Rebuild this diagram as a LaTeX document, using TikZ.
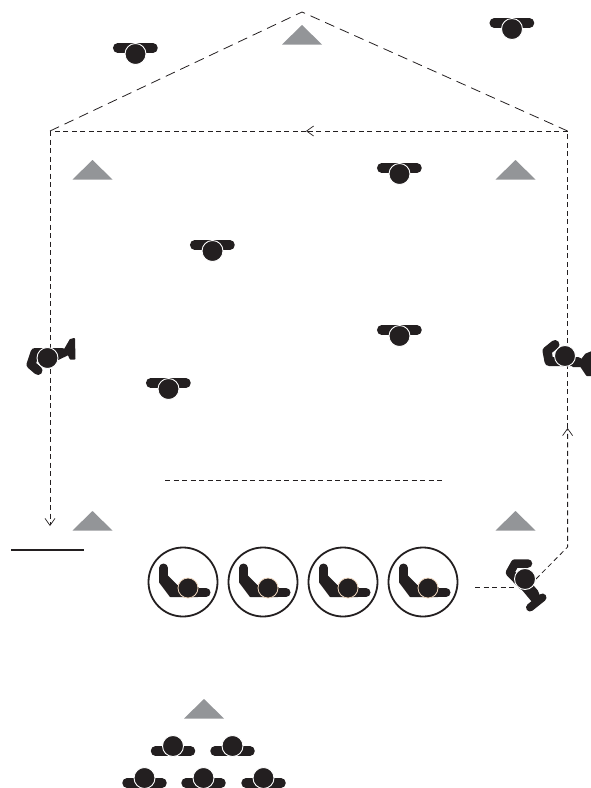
\documentclass[tikz,border=0pt]{standalone}
\usetikzlibrary{arrows.meta}
\definecolor{ink}{HTML}{231F20}
\definecolor{stagegray}{HTML}{939598}
\definecolor{rim}{HTML}{F0D8C0}
\tikzset{
  x=1pt,y=-1pt,
  limb/.style={draw=ink,line cap=round,line join=round},
  blob/.style={fill=ink,draw=ink,line width=2pt,line join=round},
  head/.style={fill=ink,draw=white,line width=0.9pt},
  longdash/.style={draw=ink,line width=0.8pt,dash pattern=on 10pt off 6pt},
  shortdash/.style={draw=ink,line width=0.8pt,dash pattern=on 5pt off 3.5pt},
  barb/.style={-{Straight Barb[length=7pt,width=10pt,line width=0.7pt]}},
  stage/.pic={\fill[stagegray] (0,0)--(-20,19.5)--(20,19.5)--cycle;},
  dancer/.pic={\draw[limb,line width=9.5pt] (-17.8,-6)--(17.5,-6);\draw[head] (0,0) circle (10.5);},
  viewer/.pic={\draw[limb,line width=9.5pt] (-17.5,5)--(17.5,5);\draw[head] (0,0) circle (10.5);},
  seated/.pic={
    \draw[ink,line width=1.8pt,fill=white] (0,0) circle (34.5);
    \draw[limb,line width=9pt] (-19.5,-14)--(-19.5,-4);
    \draw[limb,line width=9pt] (12,10.5)--(23,10.5);
    \draw[blob] (-23,-6)--(-23,0)--(-12.5,14)--(15,14)--(15,6)--(-6,4)--(-16,-6)--cycle;
    \draw[fill=ink,draw=rim,line width=0.8pt] (5,6) circle (10);
  }
}
\begin{document}
\begin{tikzpicture}
\useasboundingbox (0,0) rectangle (591,788);
\clip (0,0) rectangle (591,788);
% route coordinates
\coordinate (apex) at (302,12);
\coordinate (tl) at (50,131);
\coordinate (tr) at (567.6,131);
\coordinate (arrowTop) at (306,131);
\coordinate (arrowLeft) at (50,526);
\coordinate (arrowRight) at (567.6,428);
\coordinate (kneeR) at (567.6,547);
\coordinate (startR) at (536,579);
\coordinate (lineA) at (475,587);
\coordinate (lineB) at (514,587);
\coordinate (midA) at (165,480);
\coordinate (midB) at (445,480);
\coordinate (barA) at (11,550);
\coordinate (barB) at (84,550);
% dashed routes
\draw[longdash] (tl)--(apex)--(tr);
\draw[shortdash,barb] (tr)--(arrowTop);
\draw[shortdash] (arrowTop)--(tl);
\draw[shortdash,barb] (tl)--(arrowLeft);
\draw[shortdash,barb] (startR)--(kneeR)--(arrowRight);
\draw[shortdash] (arrowRight)--(tr);
\draw[shortdash] (lineA)--(lineB);
\draw[shortdash] (midA)--(midB);
\draw[ink,line width=1.8pt] (barA)--(barB);
% stage triangles
\foreach \p in {(302,25),(92.5,160),(515.5,160),(92.5,511),(515.5,511),(204,699)}
  \path \p pic {stage};
% upright dancers
\foreach \p in {(135.5,54),(512,29),(399.5,174),(212.5,251),(399.5,336),(168.5,389)}
  \path \p pic {dancer};
% audience
\foreach \p in {(173,746),(232.5,746),(144.5,778),(203.5,778),(263.5,778)}
  \path \p pic {viewer};
% seated in circles
\foreach \p in {(183,582),(263,582),(343,582),(423,582)}
  \path \p pic {seated};
% left turning figure
\draw[limb,line width=9pt] (38,370.5)--(31,364.5)--(35,352.5)--(62,352.5);
\draw[blob] (58,349.5)--(65,349.5)--(70.5,340)--(74,339)--(74.5,358.5)--(70.5,358.5)--(68.5,354)--(58,359)--cycle;
\draw[head] (47.5,358) circle (10.5);
% right turning figure
\draw[limb,line width=9pt] (555,344.5)--(547,351)--(549,361.5)--(578,361.5);
\draw[blob] (573,358)--(581,361)--(586,354.5)--(592,352)--(592,375)--(587,375)--(581,366)--(573,366)--cycle;
\draw[head] (565,356) circle (10.5);
% lower right figure
\draw[limb,line width=8.5pt] (528,563.5)--(515,563.5)--(510,572.5)--(523,586);
\draw[blob] (520,586)--(530,583)--(537,591)--(539,596)--(535,604)--(530,598)--cycle;
\draw[limb,line width=8pt] (542.5,597.5)--(530,607.5);
\draw[head] (525,579) circle (10.5);
\end{tikzpicture}
\end{document}
